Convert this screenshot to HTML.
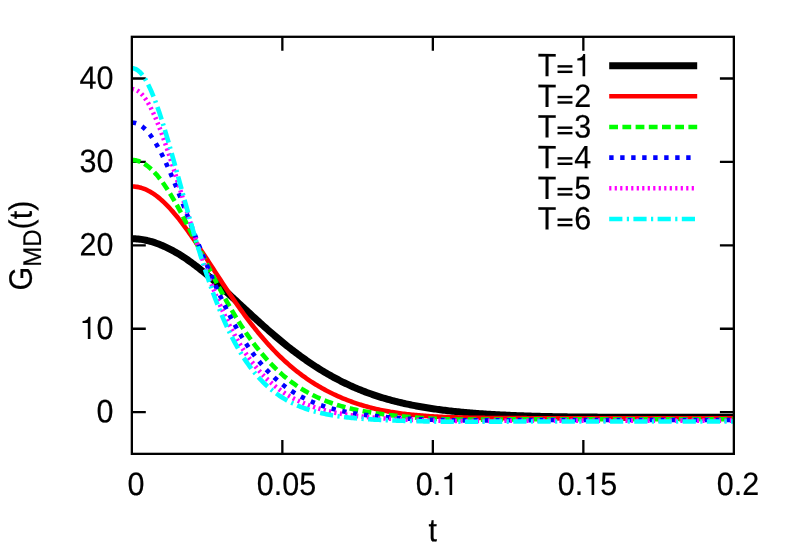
<!DOCTYPE html>
<html><head><meta charset="utf-8"><title>G_MD(t)</title>
<style>
html,body{margin:0;padding:0;background:#fff;}
body{width:789px;height:552px;overflow:hidden;}
svg{display:block;will-change:transform;}
text{font-family:"Liberation Sans",sans-serif;}
</style></head><body>
<svg width="789" height="552" viewBox="0 0 789 552">
<rect x="0" y="0" width="789" height="552" fill="#ffffff"/>
<g stroke="#000" stroke-width="2.30" fill="none" stroke-linecap="butt">
<path d="M131.85 412.15H145.80 M733.85 412.15H719.90"/>
<path d="M131.85 328.74H145.80 M733.85 328.74H719.90"/>
<path d="M131.85 245.33H145.80 M733.85 245.33H719.90"/>
<path d="M131.85 161.92H145.80 M733.85 161.92H719.90"/>
<path d="M131.85 78.50H145.80 M733.85 78.50H719.90"/>
<path d="M282.35 453.85V439.90 M282.35 36.80V50.75"/>
<path d="M432.85 453.85V439.90 M432.85 36.80V50.75"/>
<path d="M583.35 453.85V439.90 M583.35 36.80V50.75"/>
</g>
<text transform="translate(96.44 422.30) rotate(0.05) scale(0.9414 1)" font-size="32.4" stroke="#000" stroke-width="0.2">0</text>
<text transform="translate(79.47 338.88) rotate(0.05) scale(0.9414 1)" font-size="32.4" fill="none">1</text><text transform="translate(96.44 338.88) rotate(0.05) scale(0.9414 1)" font-size="32.4" stroke="#000" stroke-width="0.2">0</text><path d="M90.42 338.88 L87.80 338.88 L87.80 323.02 L82.56 323.02 L82.56 321.04 C85.57 320.92 87.89 319.82 88.56 316.65 L90.42 316.65 Z" fill="#000"/>
<text transform="translate(79.47 255.48) rotate(0.05) scale(0.9414 1)" font-size="32.4" stroke="#000" stroke-width="0.2">20</text>
<text transform="translate(79.47 172.07) rotate(0.05) scale(0.9414 1)" font-size="32.4" stroke="#000" stroke-width="0.2">30</text>
<text transform="translate(79.47 88.66) rotate(0.05) scale(0.9414 1)" font-size="32.4" stroke="#000" stroke-width="0.2">40</text>
<text transform="translate(127.52 495.00) rotate(0.05) scale(0.9414 1)" font-size="32.4" stroke="#000" stroke-width="0.2">0</text>
<text transform="translate(256.82 495.00) rotate(0.05) scale(0.9414 1)" font-size="32.4" stroke="#000" stroke-width="0.2">0.05</text>
<text transform="translate(415.80 495.00) rotate(0.05) scale(0.9414 1)" font-size="32.4" stroke="#000" stroke-width="0.2">0.</text><text transform="translate(441.24 495.00) rotate(0.05) scale(0.9414 1)" font-size="32.4" fill="none">1</text><path d="M452.19 495.00 L449.56 495.00 L449.56 479.14 L444.32 479.14 L444.32 477.16 C447.34 477.04 449.65 475.94 450.33 472.77 L452.19 472.77 Z" fill="#000"/>
<text transform="translate(557.82 495.00) rotate(0.05) scale(0.9414 1)" font-size="32.4" stroke="#000" stroke-width="0.2">0.</text><text transform="translate(583.26 495.00) rotate(0.05) scale(0.9414 1)" font-size="32.4" fill="none">1</text><text transform="translate(600.22 495.00) rotate(0.05) scale(0.9414 1)" font-size="32.4" stroke="#000" stroke-width="0.2">5</text><path d="M594.21 495.00 L591.58 495.00 L591.58 479.14 L586.34 479.14 L586.34 477.16 C589.36 477.04 591.67 475.94 592.34 472.77 L594.21 472.77 Z" fill="#000"/>
<text transform="translate(716.80 495.00) rotate(0.05) scale(0.9414 1)" font-size="32.4" stroke="#000" stroke-width="0.2">0.2</text>
<text transform="translate(428.56 541.30) rotate(0.05) scale(0.9414 1)" font-size="32.4" stroke="#000" stroke-width="0.2">t</text>
<g transform="translate(31.8 245.6) rotate(-90.05)"><text transform="translate(-44.99 0) scale(0.9414 1)" font-size="32.4" stroke="#000" stroke-width="0.2">G</text><text transform="translate(-21.27 9.2) scale(0.9414 1)" font-size="25.596" stroke="#000" stroke-width="0.18">MD</text><text transform="translate(16.20 0) scale(0.9414 1)" font-size="32.4" stroke="#000" stroke-width="0.2">(t)</text></g>
<text transform="translate(537.80 76.30) rotate(0.05) scale(0.9414 1)" font-size="32.4" stroke="#000" stroke-width="0.2">T</text><text transform="translate(556.43 76.30) rotate(0.05) scale(0.9414 1)" font-size="32.4" fill="none">=</text><text transform="translate(574.24 76.30) rotate(0.05) scale(0.9414 1)" font-size="32.4" fill="none">1</text><path d="M557.52 73.04H572.44V70.63H557.52Z" fill="#000"/><path d="M557.52 67.58H572.44V65.17H557.52Z" fill="#000"/><path d="M585.19 76.30 L582.56 76.30 L582.56 60.44 L577.32 60.44 L577.32 58.46 C580.34 58.34 582.66 57.24 583.33 54.07 L585.19 54.07 Z" fill="#000"/>
<text transform="translate(537.80 106.96) rotate(0.05) scale(0.9414 1)" font-size="32.4" stroke="#000" stroke-width="0.2">T</text><text transform="translate(556.43 106.96) rotate(0.05) scale(0.9414 1)" font-size="32.4" fill="none">=</text><text transform="translate(574.24 106.96) rotate(0.05) scale(0.9414 1)" font-size="32.4" stroke="#000" stroke-width="0.2">2</text><path d="M557.52 103.70H572.44V101.29H557.52Z" fill="#000"/><path d="M557.52 98.24H572.44V95.83H557.52Z" fill="#000"/>
<text transform="translate(537.80 137.62) rotate(0.05) scale(0.9414 1)" font-size="32.4" stroke="#000" stroke-width="0.2">T</text><text transform="translate(556.43 137.62) rotate(0.05) scale(0.9414 1)" font-size="32.4" fill="none">=</text><text transform="translate(574.24 137.62) rotate(0.05) scale(0.9414 1)" font-size="32.4" stroke="#000" stroke-width="0.2">3</text><path d="M557.52 134.36H572.44V131.95H557.52Z" fill="#000"/><path d="M557.52 128.90H572.44V126.49H557.52Z" fill="#000"/>
<text transform="translate(537.80 168.28) rotate(0.05) scale(0.9414 1)" font-size="32.4" stroke="#000" stroke-width="0.2">T</text><text transform="translate(556.43 168.28) rotate(0.05) scale(0.9414 1)" font-size="32.4" fill="none">=</text><text transform="translate(574.24 168.28) rotate(0.05) scale(0.9414 1)" font-size="32.4" stroke="#000" stroke-width="0.2">4</text><path d="M557.52 165.02H572.44V162.61H557.52Z" fill="#000"/><path d="M557.52 159.56H572.44V157.15H557.52Z" fill="#000"/>
<text transform="translate(537.80 198.94) rotate(0.05) scale(0.9414 1)" font-size="32.4" stroke="#000" stroke-width="0.2">T</text><text transform="translate(556.43 198.94) rotate(0.05) scale(0.9414 1)" font-size="32.4" fill="none">=</text><text transform="translate(574.24 198.94) rotate(0.05) scale(0.9414 1)" font-size="32.4" stroke="#000" stroke-width="0.2">5</text><path d="M557.52 195.68H572.44V193.27H557.52Z" fill="#000"/><path d="M557.52 190.22H572.44V187.81H557.52Z" fill="#000"/>
<text transform="translate(537.80 229.60) rotate(0.05) scale(0.9414 1)" font-size="32.4" stroke="#000" stroke-width="0.2">T</text><text transform="translate(556.43 229.60) rotate(0.05) scale(0.9414 1)" font-size="32.4" fill="none">=</text><text transform="translate(574.24 229.60) rotate(0.05) scale(0.9414 1)" font-size="32.4" stroke="#000" stroke-width="0.2">6</text><path d="M557.52 226.34H572.44V223.93H557.52Z" fill="#000"/><path d="M557.52 220.88H572.44V218.47H557.52Z" fill="#000"/>
<clipPath id="c"><rect x="131.85" y="36.80" width="602.00" height="417.05"/></clipPath>
<g fill="none" stroke-linecap="butt" stroke-linejoin="round">
<path d="M131.85 238.71 L133.70 238.73 L135.21 238.79 L136.71 238.89 L138.21 239.02 L139.72 239.19 L141.22 239.39 L142.72 239.62 L144.23 239.89 L145.73 240.20 L147.23 240.53 L148.74 240.90 L150.24 241.30 L151.75 241.73 L153.25 242.19 L154.75 242.68 L156.26 243.20 L157.76 243.74 L159.26 244.31 L160.77 244.91 L162.27 245.54 L163.77 246.19 L165.28 246.87 L166.78 247.58 L168.28 248.31 L169.79 249.06 L171.29 249.84 L172.79 250.65 L174.30 251.48 L175.80 252.33 L177.31 253.21 L178.81 254.11 L180.31 255.04 L181.82 255.98 L183.32 256.95 L184.82 257.94 L186.33 258.96 L187.83 259.99 L189.33 261.04 L190.84 262.12 L192.34 263.21 L193.84 264.32 L195.35 265.45 L196.85 266.60 L198.35 267.76 L199.86 268.95 L201.36 270.14 L202.86 271.36 L204.37 272.58 L205.87 273.82 L207.38 275.08 L208.88 276.34 L210.38 277.62 L211.89 278.92 L213.39 280.22 L214.89 281.53 L216.40 282.85 L217.90 284.18 L219.40 285.52 L220.91 286.87 L222.41 288.22 L223.91 289.59 L225.42 290.95 L226.92 292.33 L228.42 293.70 L229.93 295.09 L231.43 296.47 L232.93 297.86 L234.44 299.25 L235.94 300.65 L237.45 302.04 L238.95 303.44 L240.45 304.83 L241.96 306.23 L243.46 307.63 L244.96 309.02 L246.47 310.41 L247.97 311.80 L249.47 313.19 L250.98 314.58 L252.48 315.96 L253.98 317.34 L255.49 318.71 L256.99 320.08 L258.49 321.44 L260.00 322.80 L261.50 324.16 L263.00 325.50 L264.51 326.84 L266.01 328.17 L267.51 329.50 L269.02 330.81 L270.52 332.12 L272.03 333.43 L273.53 334.72 L275.03 336.00 L276.54 337.28 L278.04 338.54 L279.54 339.80 L281.05 341.04 L282.55 342.28 L284.05 343.50 L285.56 344.72 L287.06 345.92 L288.56 347.12 L290.07 348.30 L291.57 349.47 L293.07 350.63 L294.58 351.78 L296.08 352.91 L297.58 354.04 L299.09 355.15 L300.59 356.25 L302.10 357.34 L303.60 358.42 L305.10 359.48 L306.61 360.53 L308.11 361.57 L309.61 362.60 L311.12 363.62 L312.62 364.62 L314.12 365.61 L315.63 366.58 L317.13 367.55 L318.63 368.50 L320.14 369.44 L321.64 370.37 L323.14 371.28 L324.65 372.18 L326.15 373.07 L327.66 373.94 L329.16 374.81 L330.66 375.66 L332.17 376.50 L333.67 377.32 L335.17 378.13 L336.68 378.93 L338.18 379.72 L339.68 380.50 L341.19 381.26 L342.69 382.01 L344.19 382.75 L345.70 383.48 L347.20 384.19 L348.70 384.90 L350.21 385.59 L351.71 386.27 L353.21 386.93 L354.72 387.59 L356.22 388.24 L357.73 388.87 L359.23 389.49 L360.73 390.10 L362.24 390.70 L363.74 391.29 L365.24 391.87 L366.75 392.43 L368.25 392.99 L369.75 393.53 L371.26 394.07 L372.76 394.59 L374.26 395.11 L375.77 395.61 L377.27 396.11 L378.77 396.59 L380.28 397.07 L381.78 397.53 L383.28 397.99 L384.79 398.43 L386.29 398.87 L387.80 399.30 L389.30 399.72 L390.80 400.13 L392.31 400.53 L393.81 400.93 L395.31 401.31 L396.82 401.69 L398.32 402.06 L399.82 402.43 L401.33 402.78 L402.83 403.13 L404.33 403.47 L405.84 403.81 L407.34 404.13 L408.84 404.45 L410.35 404.77 L411.85 405.07 L413.35 405.37 L414.86 405.66 L416.36 405.95 L417.87 406.23 L419.37 406.51 L420.87 406.78 L422.38 407.04 L423.88 407.30 L425.38 407.55 L426.89 407.79 L428.39 408.03 L429.89 408.27 L431.40 408.50 L432.90 408.72 L434.40 408.94 L435.91 409.16 L437.41 409.37 L438.91 409.57 L440.42 409.77 L441.92 409.97 L443.42 410.16 L444.93 410.34 L446.43 410.53 L447.94 410.71 L449.44 410.88 L450.94 411.05 L452.45 411.22 L453.95 411.38 L455.45 411.54 L456.96 411.69 L458.46 411.84 L459.96 411.99 L461.47 412.14 L462.97 412.28 L464.47 412.42 L465.98 412.55 L467.48 412.68 L468.98 412.81 L470.49 412.94 L471.99 413.06 L473.49 413.18 L475.00 413.29 L476.50 413.41 L478.00 413.52 L479.51 413.63 L481.01 413.73 L482.52 413.84 L484.02 413.94 L485.52 414.04 L487.03 414.13 L488.53 414.23 L490.03 414.32 L491.54 414.41 L493.04 414.50 L494.54 414.58 L496.05 414.67 L497.55 414.75 L499.05 414.83 L500.56 414.90 L502.06 414.98 L503.56 415.05 L505.07 415.12 L506.57 415.19 L508.08 415.26 L509.58 415.33 L511.08 415.39 L512.59 415.46 L514.09 415.52 L515.59 415.58 L517.10 415.64 L518.60 415.69 L520.10 415.75 L521.61 415.80 L523.11 415.86 L524.61 415.91 L526.12 415.96 L527.62 416.01 L529.12 416.06 L530.63 416.10 L532.13 416.15 L533.63 416.19 L535.14 416.23 L536.64 416.27 L538.15 416.31 L539.65 416.35 L541.15 416.39 L542.66 416.43 L544.16 416.46 L545.66 416.50 L547.17 416.53 L548.67 416.56 L550.17 416.59 L551.68 416.62 L553.18 416.65 L554.68 416.68 L556.19 416.71 L557.69 416.74 L559.19 416.76 L560.70 416.79 L562.20 416.81 L563.70 416.83 L565.21 416.85 L566.71 416.87 L568.21 416.89 L569.72 416.91 L571.22 416.93 L572.73 416.95 L574.23 416.96 L575.73 416.98 L577.24 416.99 L578.74 417.01 L580.24 417.02 L581.75 417.03 L583.25 417.04 L584.75 417.05 L586.26 417.06 L587.76 417.07 L589.26 417.08 L590.77 417.09 L592.27 417.10 L593.77 417.11 L595.28 417.12 L596.78 417.12 L598.29 417.13 L599.79 417.14 L601.29 417.15 L602.80 417.15 L604.30 417.16 L605.80 417.17 L607.31 417.17 L608.81 417.18 L610.31 417.18 L611.82 417.19 L613.32 417.20 L614.82 417.20 L616.33 417.21 L617.83 417.21 L619.33 417.22 L620.84 417.22 L622.34 417.22 L623.84 417.23 L625.35 417.23 L626.85 417.24 L628.36 417.24 L629.86 417.24 L631.36 417.25 L632.87 417.25 L634.37 417.26 L635.87 417.26 L637.38 417.26 L638.88 417.26 L640.38 417.27 L641.89 417.27 L643.39 417.27 L644.89 417.28 L646.40 417.28 L647.90 417.28 L649.40 417.28 L650.91 417.28 L652.41 417.29 L653.91 417.29 L655.42 417.29 L656.92 417.29 L658.43 417.29 L659.93 417.30 L661.43 417.30 L662.94 417.30 L664.44 417.30 L665.94 417.30 L667.45 417.30 L668.95 417.31 L670.45 417.31 L671.96 417.31 L673.46 417.31 L674.96 417.31 L676.47 417.31 L677.97 417.31 L679.47 417.32 L680.98 417.32 L682.48 417.32 L683.98 417.32 L685.49 417.32 L686.99 417.32 L688.50 417.32 L690.00 417.32 L691.50 417.32 L693.01 417.32 L694.51 417.32 L696.01 417.32 L697.52 417.33 L699.02 417.33 L700.52 417.33 L702.03 417.33 L703.53 417.33 L705.03 417.33 L706.54 417.33 L708.04 417.33 L709.54 417.33 L711.05 417.33 L712.55 417.33 L714.05 417.33 L715.56 417.33 L717.06 417.33 L718.57 417.33 L720.07 417.33 L721.57 417.33 L723.08 417.33 L724.58 417.33 L726.08 417.34 L727.59 417.34 L729.09 417.34 L730.59 417.34 L732.10 417.34 L733.60 417.34" stroke="#000000" stroke-width="7.00"/>
<path d="M609.2 65.65H697.2" stroke="#000000" stroke-width="7.00"/>
<path d="M131.85 186.52 L133.70 186.55 L135.21 186.66 L136.71 186.85 L138.21 187.11 L139.72 187.44 L141.22 187.84 L142.72 188.32 L144.23 188.87 L145.73 189.49 L147.23 190.18 L148.74 190.94 L150.24 191.77 L151.75 192.66 L153.25 193.63 L154.75 194.66 L156.26 195.75 L157.76 196.91 L159.26 198.12 L160.77 199.40 L162.27 200.74 L163.77 202.14 L165.28 203.59 L166.78 205.09 L168.28 206.65 L169.79 208.26 L171.29 209.92 L172.79 211.63 L174.30 213.38 L175.80 215.18 L177.31 217.02 L178.81 218.90 L180.31 220.82 L181.82 222.78 L183.32 224.77 L184.82 226.79 L186.33 228.85 L187.83 230.93 L189.33 233.05 L190.84 235.19 L192.34 237.35 L193.84 239.53 L195.35 241.74 L196.85 243.96 L198.35 246.20 L199.86 248.45 L201.36 250.72 L202.86 253.00 L204.37 255.28 L205.87 257.58 L207.38 259.88 L208.88 262.19 L210.38 264.50 L211.89 266.81 L213.39 269.12 L214.89 271.44 L216.40 273.74 L217.90 276.05 L219.40 278.35 L220.91 280.64 L222.41 282.92 L223.91 285.20 L225.42 287.47 L226.92 289.72 L228.42 291.96 L229.93 294.19 L231.43 296.41 L232.93 298.61 L234.44 300.79 L235.94 302.95 L237.45 305.10 L238.95 307.23 L240.45 309.34 L241.96 311.44 L243.46 313.51 L244.96 315.55 L246.47 317.58 L247.97 319.59 L249.47 321.57 L250.98 323.53 L252.48 325.47 L253.98 327.38 L255.49 329.27 L256.99 331.13 L258.49 332.97 L260.00 334.78 L261.50 336.57 L263.00 338.33 L264.51 340.07 L266.01 341.78 L267.51 343.47 L269.02 345.13 L270.52 346.76 L272.03 348.37 L273.53 349.96 L275.03 351.51 L276.54 353.04 L278.04 354.55 L279.54 356.03 L281.05 357.49 L282.55 358.92 L284.05 360.32 L285.56 361.70 L287.06 363.05 L288.56 364.39 L290.07 365.69 L291.57 366.97 L293.07 368.23 L294.58 369.47 L296.08 370.68 L297.58 371.86 L299.09 373.03 L300.59 374.17 L302.10 375.29 L303.60 376.39 L305.10 377.47 L306.61 378.52 L308.11 379.56 L309.61 380.57 L311.12 381.57 L312.62 382.54 L314.12 383.49 L315.63 384.43 L317.13 385.34 L318.63 386.24 L320.14 387.11 L321.64 387.97 L323.14 388.82 L324.65 389.64 L326.15 390.45 L327.66 391.24 L329.16 392.01 L330.66 392.77 L332.17 393.51 L333.67 394.23 L335.17 394.94 L336.68 395.63 L338.18 396.31 L339.68 396.97 L341.19 397.62 L342.69 398.26 L344.19 398.88 L345.70 399.48 L347.20 400.07 L348.70 400.65 L350.21 401.21 L351.71 401.77 L353.21 402.30 L354.72 402.83 L356.22 403.34 L357.73 403.84 L359.23 404.33 L360.73 404.80 L362.24 405.26 L363.74 405.71 L365.24 406.15 L366.75 406.58 L368.25 406.99 L369.75 407.40 L371.26 407.79 L372.76 408.17 L374.26 408.54 L375.77 408.90 L377.27 409.24 L378.77 409.58 L380.28 409.90 L381.78 410.22 L383.28 410.52 L384.79 410.82 L386.29 411.10 L387.80 411.38 L389.30 411.64 L390.80 411.90 L392.31 412.14 L393.81 412.38 L395.31 412.61 L396.82 412.84 L398.32 413.05 L399.82 413.26 L401.33 413.46 L402.83 413.66 L404.33 413.85 L405.84 414.03 L407.34 414.21 L408.84 414.38 L410.35 414.54 L411.85 414.70 L413.35 414.85 L414.86 415.00 L416.36 415.14 L417.87 415.28 L419.37 415.41 L420.87 415.54 L422.38 415.66 L423.88 415.77 L425.38 415.89 L426.89 416.00 L428.39 416.10 L429.89 416.20 L431.40 416.29 L432.90 416.39 L434.40 416.47 L435.91 416.56 L437.41 416.64 L438.91 416.72 L440.42 416.79 L441.92 416.86 L443.42 416.93 L444.93 416.99 L446.43 417.05 L447.94 417.11 L449.44 417.17 L450.94 417.22 L452.45 417.27 L453.95 417.32 L455.45 417.37 L456.96 417.41 L458.46 417.46 L459.96 417.50 L461.47 417.53 L462.97 417.57 L464.47 417.60 L465.98 417.64 L467.48 417.67 L468.98 417.70 L470.49 417.73 L471.99 417.75 L473.49 417.78 L475.00 417.80 L476.50 417.82 L478.00 417.84 L479.51 417.86 L481.01 417.88 L482.52 417.90 L484.02 417.92 L485.52 417.94 L487.03 417.95 L488.53 417.97 L490.03 417.98 L491.54 417.99 L493.04 418.01 L494.54 418.02 L496.05 418.03 L497.55 418.04 L499.05 418.05 L500.56 418.06 L502.06 418.07 L503.56 418.08 L505.07 418.09 L506.57 418.09 L508.08 418.10 L509.58 418.11 L511.08 418.12 L512.59 418.12 L514.09 418.13 L515.59 418.13 L517.10 418.14 L518.60 418.15 L520.10 418.15 L521.61 418.16 L523.11 418.16 L524.61 418.17 L526.12 418.17 L527.62 418.18 L529.12 418.18 L530.63 418.18 L532.13 418.19 L533.63 418.19 L535.14 418.20 L536.64 418.20 L538.15 418.20 L539.65 418.21 L541.15 418.21 L542.66 418.22 L544.16 418.22 L545.66 418.22 L547.17 418.23 L548.67 418.23 L550.17 418.23 L551.68 418.24 L553.18 418.24 L554.68 418.24 L556.19 418.25 L557.69 418.25 L559.19 418.25 L560.70 418.26 L562.20 418.26 L563.70 418.26 L565.21 418.26 L566.71 418.27 L568.21 418.27 L569.72 418.27 L571.22 418.28 L572.73 418.28 L574.23 418.28 L575.73 418.29 L577.24 418.29 L578.74 418.29 L580.24 418.29 L581.75 418.30 L583.25 418.30 L584.75 418.30 L586.26 418.30 L587.76 418.31 L589.26 418.31 L590.77 418.31 L592.27 418.31 L593.77 418.32 L595.28 418.32 L596.78 418.32 L598.29 418.32 L599.79 418.32 L601.29 418.33 L602.80 418.33 L604.30 418.33 L605.80 418.33 L607.31 418.33 L608.81 418.34 L610.31 418.34 L611.82 418.34 L613.32 418.34 L614.82 418.34 L616.33 418.35 L617.83 418.35 L619.33 418.35 L620.84 418.35 L622.34 418.35 L623.84 418.35 L625.35 418.36 L626.85 418.36 L628.36 418.36 L629.86 418.36 L631.36 418.36 L632.87 418.36 L634.37 418.36 L635.87 418.37 L637.38 418.37 L638.88 418.37 L640.38 418.37 L641.89 418.37 L643.39 418.37 L644.89 418.37 L646.40 418.37 L647.90 418.37 L649.40 418.38 L650.91 418.38 L652.41 418.38 L653.91 418.38 L655.42 418.38 L656.92 418.38 L658.43 418.38 L659.93 418.38 L661.43 418.38 L662.94 418.38 L664.44 418.38 L665.94 418.38 L667.45 418.39 L668.95 418.39 L670.45 418.39 L671.96 418.39 L673.46 418.39 L674.96 418.39 L676.47 418.39 L677.97 418.39 L679.47 418.39 L680.98 418.39 L682.48 418.39 L683.98 418.39 L685.49 418.39 L686.99 418.39 L688.50 418.39 L690.00 418.39 L691.50 418.39 L693.01 418.39 L694.51 418.40 L696.01 418.40 L697.52 418.40 L699.02 418.40 L700.52 418.40 L702.03 418.40 L703.53 418.40 L705.03 418.40 L706.54 418.40 L708.04 418.40 L709.54 418.40 L711.05 418.40 L712.55 418.40 L714.05 418.40 L715.56 418.40 L717.06 418.40 L718.57 418.40 L720.07 418.40 L721.57 418.40 L723.08 418.40 L724.58 418.40 L726.08 418.40 L727.59 418.40 L729.09 418.40 L730.59 418.40 L732.10 418.40 L733.60 418.40" stroke="#ff0000" stroke-width="4.60"/>
<path d="M609.2 96.31H697.2" stroke="#ff0000" stroke-width="4.60"/>
<path d="M131.85 160.08 L133.70 160.14 L135.21 160.31 L136.71 160.60 L138.21 161.00 L139.72 161.52 L141.22 162.15 L142.72 162.89 L144.23 163.74 L145.73 164.71 L147.23 165.77 L148.74 166.95 L150.24 168.23 L151.75 169.61 L153.25 171.09 L154.75 172.67 L156.26 174.34 L157.76 176.10 L159.26 177.95 L160.77 179.89 L162.27 181.91 L163.77 184.02 L165.28 186.19 L166.78 188.45 L168.28 190.77 L169.79 193.16 L171.29 195.61 L172.79 198.12 L174.30 200.69 L175.80 203.31 L177.31 205.98 L178.81 208.70 L180.31 211.46 L181.82 214.26 L183.32 217.10 L184.82 219.97 L186.33 222.86 L187.83 225.79 L189.33 228.73 L190.84 231.70 L192.34 234.68 L193.84 237.68 L195.35 240.68 L196.85 243.69 L198.35 246.71 L199.86 249.73 L201.36 252.75 L202.86 255.76 L204.37 258.77 L205.87 261.77 L207.38 264.76 L208.88 267.73 L210.38 270.70 L211.89 273.64 L213.39 276.57 L214.89 279.47 L216.40 282.35 L217.90 285.21 L219.40 288.05 L220.91 290.85 L222.41 293.63 L223.91 296.38 L225.42 299.09 L226.92 301.78 L228.42 304.43 L229.93 307.05 L231.43 309.64 L232.93 312.18 L234.44 314.70 L235.94 317.17 L237.45 319.61 L238.95 322.01 L240.45 324.37 L241.96 326.70 L243.46 328.98 L244.96 331.23 L246.47 333.43 L247.97 335.60 L249.47 337.73 L250.98 339.81 L252.48 341.86 L253.98 343.87 L255.49 345.84 L256.99 347.77 L258.49 349.66 L260.00 351.51 L261.50 353.33 L263.00 355.10 L264.51 356.84 L266.01 358.54 L267.51 360.20 L269.02 361.83 L270.52 363.42 L272.03 364.97 L273.53 366.49 L275.03 367.97 L276.54 369.41 L278.04 370.83 L279.54 372.20 L281.05 373.55 L282.55 374.86 L284.05 376.14 L285.56 377.39 L287.06 378.61 L288.56 379.79 L290.07 380.95 L291.57 382.08 L293.07 383.18 L294.58 384.24 L296.08 385.29 L297.58 386.30 L299.09 387.29 L300.59 388.25 L302.10 389.18 L303.60 390.09 L305.10 390.98 L306.61 391.84 L308.11 392.67 L309.61 393.49 L311.12 394.28 L312.62 395.05 L314.12 395.79 L315.63 396.52 L317.13 397.23 L318.63 397.91 L320.14 398.58 L321.64 399.22 L323.14 399.85 L324.65 400.46 L326.15 401.06 L327.66 401.63 L329.16 402.19 L330.66 402.73 L332.17 403.26 L333.67 403.77 L335.17 404.26 L336.68 404.74 L338.18 405.21 L339.68 405.66 L341.19 406.10 L342.69 406.52 L344.19 406.94 L345.70 407.34 L347.20 407.73 L348.70 408.10 L350.21 408.47 L351.71 408.82 L353.21 409.16 L354.72 409.50 L356.22 409.82 L357.73 410.13 L359.23 410.44 L360.73 410.73 L362.24 411.02 L363.74 411.30 L365.24 411.57 L366.75 411.83 L368.25 412.08 L369.75 412.33 L371.26 412.57 L372.76 412.80 L374.26 413.03 L375.77 413.25 L377.27 413.46 L378.77 413.67 L380.28 413.88 L381.78 414.08 L383.28 414.27 L384.79 414.46 L386.29 414.64 L387.80 414.82 L389.30 415.00 L390.80 415.17 L392.31 415.34 L393.81 415.51 L395.31 415.67 L396.82 415.82 L398.32 415.98 L399.82 416.13 L401.33 416.28 L402.83 416.43 L404.33 416.57 L405.84 416.71 L407.34 416.85 L408.84 416.98 L410.35 417.12 L411.85 417.24 L413.35 417.37 L414.86 417.50 L416.36 417.62 L417.87 417.73 L419.37 417.85 L420.87 417.96 L422.38 418.07 L423.88 418.18 L425.38 418.28 L426.89 418.38 L428.39 418.47 L429.89 418.57 L431.40 418.65 L432.90 418.74 L434.40 418.82 L435.91 418.89 L437.41 418.97 L438.91 419.04 L440.42 419.10 L441.92 419.16 L443.42 419.21 L444.93 419.27 L446.43 419.31 L447.94 419.35 L449.44 419.39 L450.94 419.43 L452.45 419.46 L453.95 419.49 L455.45 419.52 L456.96 419.55 L458.46 419.57 L459.96 419.59 L461.47 419.61 L462.97 419.62 L464.47 419.63 L465.98 419.64 L467.48 419.65 L468.98 419.66 L470.49 419.66 L471.99 419.67 L473.49 419.67 L475.00 419.67 L476.50 419.66 L478.00 419.66 L479.51 419.66 L481.01 419.65 L482.52 419.64 L484.02 419.63 L485.52 419.62 L487.03 419.61 L488.53 419.60 L490.03 419.59 L491.54 419.58 L493.04 419.57 L494.54 419.55 L496.05 419.54 L497.55 419.53 L499.05 419.51 L500.56 419.50 L502.06 419.49 L503.56 419.47 L505.07 419.46 L506.57 419.45 L508.08 419.43 L509.58 419.42 L511.08 419.41 L512.59 419.39 L514.09 419.38 L515.59 419.37 L517.10 419.36 L518.60 419.35 L520.10 419.34 L521.61 419.33 L523.11 419.32 L524.61 419.31 L526.12 419.30 L527.62 419.29 L529.12 419.28 L530.63 419.27 L532.13 419.27 L533.63 419.26 L535.14 419.25 L536.64 419.25 L538.15 419.24 L539.65 419.24 L541.15 419.23 L542.66 419.23 L544.16 419.22 L545.66 419.22 L547.17 419.22 L548.67 419.22 L550.17 419.21 L551.68 419.21 L553.18 419.21 L554.68 419.21 L556.19 419.21 L557.69 419.20 L559.19 419.20 L560.70 419.20 L562.20 419.20 L563.70 419.20 L565.21 419.20 L566.71 419.20 L568.21 419.20 L569.72 419.20 L571.22 419.20 L572.73 419.20 L574.23 419.20 L575.73 419.20 L577.24 419.20 L578.74 419.20 L580.24 419.20 L581.75 419.20 L583.25 419.20 L584.75 419.21 L586.26 419.21 L587.76 419.21 L589.26 419.21 L590.77 419.21 L592.27 419.21 L593.77 419.21 L595.28 419.21 L596.78 419.21 L598.29 419.21 L599.79 419.21 L601.29 419.21 L602.80 419.21 L604.30 419.22 L605.80 419.22 L607.31 419.22 L608.81 419.22 L610.31 419.22 L611.82 419.22 L613.32 419.22 L614.82 419.22 L616.33 419.22 L617.83 419.22 L619.33 419.22 L620.84 419.22 L622.34 419.22 L623.84 419.22 L625.35 419.22 L626.85 419.22 L628.36 419.23 L629.86 419.23 L631.36 419.23 L632.87 419.23 L634.37 419.23 L635.87 419.23 L637.38 419.23 L638.88 419.23 L640.38 419.23 L641.89 419.23 L643.39 419.23 L644.89 419.23 L646.40 419.23 L647.90 419.23 L649.40 419.23 L650.91 419.23 L652.41 419.23 L653.91 419.23 L655.42 419.23 L656.92 419.23 L658.43 419.23 L659.93 419.23 L661.43 419.23 L662.94 419.23 L664.44 419.23 L665.94 419.23 L667.45 419.23 L668.95 419.23 L670.45 419.23 L671.96 419.23 L673.46 419.23 L674.96 419.23 L676.47 419.23 L677.97 419.23 L679.47 419.24 L680.98 419.24 L682.48 419.24 L683.98 419.24 L685.49 419.24 L686.99 419.24 L688.50 419.24 L690.00 419.24 L691.50 419.24 L693.01 419.24 L694.51 419.24 L696.01 419.24 L697.52 419.24 L699.02 419.24 L700.52 419.24 L702.03 419.24 L703.53 419.24 L705.03 419.24 L706.54 419.24 L708.04 419.24 L709.54 419.24 L711.05 419.24 L712.55 419.24 L714.05 419.24 L715.56 419.24 L717.06 419.24 L718.57 419.24 L720.07 419.24 L721.57 419.24 L723.08 419.24 L724.58 419.24 L726.08 419.24 L727.59 419.24 L729.09 419.24 L730.59 419.24 L732.10 419.24 L733.60 419.24" stroke="#00ff00" stroke-width="4.60" stroke-dasharray="8.80 4.40"/>
<path d="M609.2 126.97H697.2" stroke="#00ff00" stroke-width="4.60" stroke-dasharray="8.80 4.40"/>
<path d="M131.85 122.66 L133.70 122.75 L135.21 123.01 L136.71 123.45 L138.21 124.07 L139.72 124.86 L141.22 125.81 L142.72 126.94 L144.23 128.23 L145.73 129.69 L147.23 131.31 L148.74 133.08 L150.24 135.00 L151.75 137.07 L153.25 139.28 L154.75 141.63 L156.26 144.12 L157.76 146.73 L159.26 149.46 L160.77 152.31 L162.27 155.27 L163.77 158.33 L165.28 161.49 L166.78 164.74 L168.28 168.08 L169.79 171.50 L171.29 174.99 L172.79 178.55 L174.30 182.17 L175.80 185.84 L177.31 189.56 L178.81 193.33 L180.31 197.13 L181.82 200.97 L183.32 204.83 L184.82 208.72 L186.33 212.62 L187.83 216.53 L189.33 220.45 L190.84 224.36 L192.34 228.28 L193.84 232.18 L195.35 236.08 L196.85 239.96 L198.35 243.82 L199.86 247.66 L201.36 251.47 L202.86 255.25 L204.37 259.00 L205.87 262.72 L207.38 266.40 L208.88 270.04 L210.38 273.63 L211.89 277.18 L213.39 280.69 L214.89 284.15 L216.40 287.55 L217.90 290.91 L219.40 294.22 L220.91 297.47 L222.41 300.67 L223.91 303.81 L225.42 306.90 L226.92 309.94 L228.42 312.91 L229.93 315.83 L231.43 318.69 L232.93 321.50 L234.44 324.24 L235.94 326.93 L237.45 329.57 L238.95 332.14 L240.45 334.66 L241.96 337.12 L243.46 339.53 L244.96 341.88 L246.47 344.17 L247.97 346.41 L249.47 348.60 L250.98 350.73 L252.48 352.81 L253.98 354.84 L255.49 356.82 L256.99 358.75 L258.49 360.62 L260.00 362.45 L261.50 364.23 L263.00 365.96 L264.51 367.64 L266.01 369.28 L267.51 370.88 L269.02 372.43 L270.52 373.93 L272.03 375.40 L273.53 376.82 L275.03 378.20 L276.54 379.55 L278.04 380.85 L279.54 382.12 L281.05 383.35 L282.55 384.54 L284.05 385.70 L285.56 386.82 L287.06 387.91 L288.56 388.97 L290.07 390.00 L291.57 390.99 L293.07 391.96 L294.58 392.89 L296.08 393.80 L297.58 394.67 L299.09 395.52 L300.59 396.35 L302.10 397.15 L303.60 397.92 L305.10 398.67 L306.61 399.39 L308.11 400.09 L309.61 400.77 L311.12 401.43 L312.62 402.07 L314.12 402.68 L315.63 403.28 L317.13 403.85 L318.63 404.41 L320.14 404.95 L321.64 405.47 L323.14 405.98 L324.65 406.46 L326.15 406.94 L327.66 407.39 L329.16 407.83 L330.66 408.26 L332.17 408.67 L333.67 409.07 L335.17 409.45 L336.68 409.83 L338.18 410.19 L339.68 410.53 L341.19 410.87 L342.69 411.19 L344.19 411.51 L345.70 411.81 L347.20 412.10 L348.70 412.39 L350.21 412.66 L351.71 412.92 L353.21 413.18 L354.72 413.42 L356.22 413.66 L357.73 413.89 L359.23 414.11 L360.73 414.33 L362.24 414.54 L363.74 414.74 L365.24 414.93 L366.75 415.12 L368.25 415.30 L369.75 415.48 L371.26 415.65 L372.76 415.82 L374.26 415.98 L375.77 416.13 L377.27 416.28 L378.77 416.43 L380.28 416.57 L381.78 416.71 L383.28 416.84 L384.79 416.97 L386.29 417.10 L387.80 417.23 L389.30 417.35 L390.80 417.46 L392.31 417.58 L393.81 417.69 L395.31 417.80 L396.82 417.91 L398.32 418.01 L399.82 418.11 L401.33 418.21 L402.83 418.31 L404.33 418.40 L405.84 418.50 L407.34 418.59 L408.84 418.68 L410.35 418.77 L411.85 418.85 L413.35 418.93 L414.86 419.02 L416.36 419.09 L417.87 419.17 L419.37 419.25 L420.87 419.32 L422.38 419.39 L423.88 419.46 L425.38 419.53 L426.89 419.59 L428.39 419.65 L429.89 419.71 L431.40 419.77 L432.90 419.82 L434.40 419.87 L435.91 419.92 L437.41 419.97 L438.91 420.01 L440.42 420.05 L441.92 420.09 L443.42 420.12 L444.93 420.16 L446.43 420.19 L447.94 420.21 L449.44 420.24 L450.94 420.26 L452.45 420.28 L453.95 420.30 L455.45 420.31 L456.96 420.33 L458.46 420.34 L459.96 420.35 L461.47 420.36 L462.97 420.37 L464.47 420.38 L465.98 420.38 L467.48 420.38 L468.98 420.39 L470.49 420.39 L471.99 420.39 L473.49 420.39 L475.00 420.38 L476.50 420.38 L478.00 420.38 L479.51 420.37 L481.01 420.37 L482.52 420.36 L484.02 420.35 L485.52 420.35 L487.03 420.34 L488.53 420.33 L490.03 420.32 L491.54 420.31 L493.04 420.30 L494.54 420.29 L496.05 420.28 L497.55 420.27 L499.05 420.26 L500.56 420.25 L502.06 420.24 L503.56 420.23 L505.07 420.22 L506.57 420.21 L508.08 420.20 L509.58 420.19 L511.08 420.18 L512.59 420.17 L514.09 420.16 L515.59 420.15 L517.10 420.14 L518.60 420.13 L520.10 420.13 L521.61 420.12 L523.11 420.11 L524.61 420.10 L526.12 420.10 L527.62 420.09 L529.12 420.09 L530.63 420.08 L532.13 420.07 L533.63 420.07 L535.14 420.06 L536.64 420.06 L538.15 420.06 L539.65 420.05 L541.15 420.05 L542.66 420.04 L544.16 420.04 L545.66 420.04 L547.17 420.04 L548.67 420.03 L550.17 420.03 L551.68 420.03 L553.18 420.03 L554.68 420.03 L556.19 420.02 L557.69 420.02 L559.19 420.02 L560.70 420.02 L562.20 420.02 L563.70 420.02 L565.21 420.02 L566.71 420.02 L568.21 420.02 L569.72 420.02 L571.22 420.02 L572.73 420.02 L574.23 420.02 L575.73 420.02 L577.24 420.02 L578.74 420.02 L580.24 420.02 L581.75 420.02 L583.25 420.02 L584.75 420.02 L586.26 420.02 L587.76 420.02 L589.26 420.02 L590.77 420.02 L592.27 420.02 L593.77 420.02 L595.28 420.02 L596.78 420.02 L598.29 420.02 L599.79 420.02 L601.29 420.02 L602.80 420.02 L604.30 420.02 L605.80 420.02 L607.31 420.02 L608.81 420.02 L610.31 420.02 L611.82 420.02 L613.32 420.02 L614.82 420.02 L616.33 420.02 L617.83 420.03 L619.33 420.03 L620.84 420.03 L622.34 420.03 L623.84 420.03 L625.35 420.03 L626.85 420.03 L628.36 420.03 L629.86 420.03 L631.36 420.03 L632.87 420.03 L634.37 420.03 L635.87 420.03 L637.38 420.03 L638.88 420.03 L640.38 420.03 L641.89 420.03 L643.39 420.03 L644.89 420.03 L646.40 420.03 L647.90 420.03 L649.40 420.03 L650.91 420.03 L652.41 420.03 L653.91 420.03 L655.42 420.03 L656.92 420.03 L658.43 420.03 L659.93 420.03 L661.43 420.03 L662.94 420.03 L664.44 420.03 L665.94 420.03 L667.45 420.03 L668.95 420.03 L670.45 420.03 L671.96 420.03 L673.46 420.03 L674.96 420.03 L676.47 420.03 L677.97 420.03 L679.47 420.03 L680.98 420.03 L682.48 420.03 L683.98 420.03 L685.49 420.03 L686.99 420.03 L688.50 420.03 L690.00 420.03 L691.50 420.03 L693.01 420.03 L694.51 420.03 L696.01 420.03 L697.52 420.03 L699.02 420.03 L700.52 420.03 L702.03 420.03 L703.53 420.03 L705.03 420.03 L706.54 420.03 L708.04 420.03 L709.54 420.03 L711.05 420.03 L712.55 420.03 L714.05 420.03 L715.56 420.03 L717.06 420.03 L718.57 420.03 L720.07 420.03 L721.57 420.03 L723.08 420.03 L724.58 420.03 L726.08 420.03 L727.59 420.03 L729.09 420.03 L730.59 420.03 L732.10 420.03 L733.60 420.03" stroke="#0000ff" stroke-width="4.60" stroke-dasharray="4.40 6.60"/>
<path d="M609.2 157.63H697.2" stroke="#0000ff" stroke-width="4.60" stroke-dasharray="4.40 6.60"/>
<path d="M131.85 89.09 L133.70 89.22 L135.21 89.60 L136.71 90.24 L138.21 91.13 L139.72 92.27 L141.22 93.65 L142.72 95.28 L144.23 97.14 L145.73 99.23 L147.23 101.54 L148.74 104.07 L150.24 106.81 L151.75 109.74 L153.25 112.87 L154.75 116.17 L156.26 119.65 L157.76 123.28 L159.26 127.07 L160.77 131.00 L162.27 135.06 L163.77 139.24 L165.28 143.52 L166.78 147.91 L168.28 152.39 L169.79 156.94 L171.29 161.57 L172.79 166.25 L174.30 170.99 L175.80 175.76 L177.31 180.57 L178.81 185.40 L180.31 190.25 L181.82 195.10 L183.32 199.96 L184.82 204.81 L186.33 209.64 L187.83 214.46 L189.33 219.25 L190.84 224.01 L192.34 228.73 L193.84 233.41 L195.35 238.04 L196.85 242.63 L198.35 247.16 L199.86 251.63 L201.36 256.05 L202.86 260.40 L204.37 264.68 L205.87 268.90 L207.38 273.04 L208.88 277.12 L210.38 281.12 L211.89 285.04 L213.39 288.90 L214.89 292.67 L216.40 296.37 L217.90 299.99 L219.40 303.53 L220.91 307.00 L222.41 310.38 L223.91 313.69 L225.42 316.92 L226.92 320.08 L228.42 323.15 L229.93 326.16 L231.43 329.08 L232.93 331.94 L234.44 334.71 L235.94 337.42 L237.45 340.06 L238.95 342.62 L240.45 345.11 L241.96 347.54 L243.46 349.90 L244.96 352.19 L246.47 354.42 L247.97 356.58 L249.47 358.68 L250.98 360.73 L252.48 362.71 L253.98 364.63 L255.49 366.49 L256.99 368.30 L258.49 370.06 L260.00 371.76 L261.50 373.41 L263.00 375.01 L264.51 376.56 L266.01 378.06 L267.51 379.51 L269.02 380.92 L270.52 382.28 L272.03 383.60 L273.53 384.88 L275.03 386.12 L276.54 387.31 L278.04 388.47 L279.54 389.59 L281.05 390.68 L282.55 391.72 L284.05 392.74 L285.56 393.72 L287.06 394.66 L288.56 395.58 L290.07 396.47 L291.57 397.32 L293.07 398.15 L294.58 398.95 L296.08 399.72 L297.58 400.46 L299.09 401.18 L300.59 401.88 L302.10 402.55 L303.60 403.20 L305.10 403.83 L306.61 404.43 L308.11 405.01 L309.61 405.58 L311.12 406.12 L312.62 406.65 L314.12 407.15 L315.63 407.64 L317.13 408.11 L318.63 408.57 L320.14 409.01 L321.64 409.43 L323.14 409.84 L324.65 410.24 L326.15 410.62 L327.66 410.98 L329.16 411.34 L330.66 411.68 L332.17 412.01 L333.67 412.32 L335.17 412.63 L336.68 412.93 L338.18 413.21 L339.68 413.48 L341.19 413.75 L342.69 414.00 L344.19 414.25 L345.70 414.49 L347.20 414.72 L348.70 414.94 L350.21 415.15 L351.71 415.35 L353.21 415.55 L354.72 415.74 L356.22 415.93 L357.73 416.10 L359.23 416.27 L360.73 416.44 L362.24 416.60 L363.74 416.75 L365.24 416.90 L366.75 417.04 L368.25 417.18 L369.75 417.32 L371.26 417.45 L372.76 417.57 L374.26 417.69 L375.77 417.81 L377.27 417.93 L378.77 418.04 L380.28 418.14 L381.78 418.25 L383.28 418.35 L384.79 418.44 L386.29 418.54 L387.80 418.63 L389.30 418.72 L390.80 418.81 L392.31 418.90 L393.81 418.98 L395.31 419.06 L396.82 419.14 L398.32 419.22 L399.82 419.30 L401.33 419.37 L402.83 419.44 L404.33 419.51 L405.84 419.58 L407.34 419.65 L408.84 419.72 L410.35 419.78 L411.85 419.85 L413.35 419.91 L414.86 419.97 L416.36 420.03 L417.87 420.09 L419.37 420.14 L420.87 420.20 L422.38 420.25 L423.88 420.30 L425.38 420.35 L426.89 420.40 L428.39 420.44 L429.89 420.49 L431.40 420.53 L432.90 420.57 L434.40 420.61 L435.91 420.64 L437.41 420.68 L438.91 420.71 L440.42 420.74 L441.92 420.77 L443.42 420.79 L444.93 420.82 L446.43 420.84 L447.94 420.86 L449.44 420.87 L450.94 420.89 L452.45 420.90 L453.95 420.91 L455.45 420.92 L456.96 420.93 L458.46 420.94 L459.96 420.95 L461.47 420.96 L462.97 420.96 L464.47 420.96 L465.98 420.97 L467.48 420.97 L468.98 420.97 L470.49 420.97 L471.99 420.97 L473.49 420.96 L475.00 420.96 L476.50 420.96 L478.00 420.95 L479.51 420.95 L481.01 420.94 L482.52 420.93 L484.02 420.93 L485.52 420.92 L487.03 420.91 L488.53 420.90 L490.03 420.90 L491.54 420.89 L493.04 420.88 L494.54 420.87 L496.05 420.86 L497.55 420.85 L499.05 420.84 L500.56 420.83 L502.06 420.82 L503.56 420.82 L505.07 420.81 L506.57 420.80 L508.08 420.79 L509.58 420.78 L511.08 420.77 L512.59 420.76 L514.09 420.76 L515.59 420.75 L517.10 420.74 L518.60 420.73 L520.10 420.73 L521.61 420.72 L523.11 420.71 L524.61 420.71 L526.12 420.70 L527.62 420.70 L529.12 420.69 L530.63 420.69 L532.13 420.68 L533.63 420.68 L535.14 420.67 L536.64 420.67 L538.15 420.67 L539.65 420.66 L541.15 420.66 L542.66 420.66 L544.16 420.65 L545.66 420.65 L547.17 420.65 L548.67 420.65 L550.17 420.64 L551.68 420.64 L553.18 420.64 L554.68 420.64 L556.19 420.64 L557.69 420.64 L559.19 420.64 L560.70 420.63 L562.20 420.63 L563.70 420.63 L565.21 420.63 L566.71 420.63 L568.21 420.63 L569.72 420.63 L571.22 420.63 L572.73 420.63 L574.23 420.63 L575.73 420.63 L577.24 420.63 L578.74 420.63 L580.24 420.63 L581.75 420.63 L583.25 420.63 L584.75 420.63 L586.26 420.63 L587.76 420.63 L589.26 420.63 L590.77 420.63 L592.27 420.63 L593.77 420.63 L595.28 420.63 L596.78 420.63 L598.29 420.63 L599.79 420.63 L601.29 420.63 L602.80 420.63 L604.30 420.63 L605.80 420.63 L607.31 420.63 L608.81 420.63 L610.31 420.63 L611.82 420.63 L613.32 420.63 L614.82 420.63 L616.33 420.63 L617.83 420.63 L619.33 420.63 L620.84 420.63 L622.34 420.63 L623.84 420.63 L625.35 420.63 L626.85 420.63 L628.36 420.63 L629.86 420.63 L631.36 420.63 L632.87 420.63 L634.37 420.63 L635.87 420.63 L637.38 420.64 L638.88 420.64 L640.38 420.64 L641.89 420.64 L643.39 420.64 L644.89 420.64 L646.40 420.64 L647.90 420.64 L649.40 420.64 L650.91 420.64 L652.41 420.64 L653.91 420.64 L655.42 420.64 L656.92 420.64 L658.43 420.64 L659.93 420.64 L661.43 420.64 L662.94 420.64 L664.44 420.64 L665.94 420.64 L667.45 420.64 L668.95 420.64 L670.45 420.64 L671.96 420.64 L673.46 420.64 L674.96 420.64 L676.47 420.64 L677.97 420.64 L679.47 420.64 L680.98 420.64 L682.48 420.64 L683.98 420.64 L685.49 420.64 L686.99 420.64 L688.50 420.64 L690.00 420.64 L691.50 420.64 L693.01 420.64 L694.51 420.64 L696.01 420.64 L697.52 420.64 L699.02 420.64 L700.52 420.64 L702.03 420.64 L703.53 420.64 L705.03 420.64 L706.54 420.64 L708.04 420.64 L709.54 420.64 L711.05 420.64 L712.55 420.64 L714.05 420.64 L715.56 420.64 L717.06 420.64 L718.57 420.64 L720.07 420.64 L721.57 420.64 L723.08 420.64 L724.58 420.64 L726.08 420.64 L727.59 420.64 L729.09 420.64 L730.59 420.64 L732.10 420.64 L733.60 420.64" stroke="#ff00ff" stroke-width="4.60" stroke-dasharray="2.20 3.30"/>
<path d="M609.2 188.29H697.2" stroke="#ff00ff" stroke-width="4.60" stroke-dasharray="2.20 3.30"/>
<path d="M131.85 68.23 L133.70 68.38 L135.21 68.83 L136.71 69.57 L138.21 70.61 L139.72 71.94 L141.22 73.55 L142.72 75.45 L144.23 77.61 L145.73 80.05 L147.23 82.74 L148.74 85.68 L150.24 88.86 L151.75 92.26 L153.25 95.89 L154.75 99.72 L156.26 103.74 L157.76 107.95 L159.26 112.33 L160.77 116.87 L162.27 121.55 L163.77 126.36 L165.28 131.30 L166.78 136.34 L168.28 141.48 L169.79 146.70 L171.29 151.99 L172.79 157.34 L174.30 162.74 L175.80 168.18 L177.31 173.65 L178.81 179.13 L180.31 184.63 L181.82 190.12 L183.32 195.60 L184.82 201.06 L186.33 206.49 L187.83 211.90 L189.33 217.26 L190.84 222.57 L192.34 227.84 L193.84 233.04 L195.35 238.18 L196.85 243.26 L198.35 248.26 L199.86 253.19 L201.36 258.03 L202.86 262.80 L204.37 267.48 L205.87 272.08 L207.38 276.58 L208.88 281.00 L210.38 285.33 L211.89 289.56 L213.39 293.70 L214.89 297.75 L216.40 301.70 L217.90 305.55 L219.40 309.32 L220.91 312.99 L222.41 316.56 L223.91 320.05 L225.42 323.44 L226.92 326.73 L228.42 329.94 L229.93 333.06 L231.43 336.10 L232.93 339.04 L234.44 341.90 L235.94 344.67 L237.45 347.37 L238.95 349.98 L240.45 352.51 L241.96 354.96 L243.46 357.34 L244.96 359.64 L246.47 361.87 L247.97 364.03 L249.47 366.12 L250.98 368.14 L252.48 370.10 L253.98 371.99 L255.49 373.82 L256.99 375.58 L258.49 377.29 L260.00 378.94 L261.50 380.53 L263.00 382.06 L264.51 383.55 L266.01 384.98 L267.51 386.36 L269.02 387.70 L270.52 388.98 L272.03 390.22 L273.53 391.42 L275.03 392.57 L276.54 393.68 L278.04 394.75 L279.54 395.79 L281.05 396.78 L282.55 397.74 L284.05 398.66 L285.56 399.55 L287.06 400.41 L288.56 401.23 L290.07 402.03 L291.57 402.79 L293.07 403.52 L294.58 404.23 L296.08 404.91 L297.58 405.57 L299.09 406.20 L300.59 406.80 L302.10 407.38 L303.60 407.95 L305.10 408.48 L306.61 409.00 L308.11 409.50 L309.61 409.98 L311.12 410.44 L312.62 410.88 L314.12 411.31 L315.63 411.72 L317.13 412.11 L318.63 412.49 L320.14 412.85 L321.64 413.20 L323.14 413.53 L324.65 413.85 L326.15 414.16 L327.66 414.46 L329.16 414.74 L330.66 415.01 L332.17 415.28 L333.67 415.53 L335.17 415.77 L336.68 416.00 L338.18 416.23 L339.68 416.44 L341.19 416.65 L342.69 416.84 L344.19 417.03 L345.70 417.21 L347.20 417.39 L348.70 417.56 L350.21 417.72 L351.71 417.87 L353.21 418.02 L354.72 418.16 L356.22 418.30 L357.73 418.43 L359.23 418.56 L360.73 418.68 L362.24 418.80 L363.74 418.91 L365.24 419.02 L366.75 419.12 L368.25 419.22 L369.75 419.31 L371.26 419.41 L372.76 419.50 L374.26 419.58 L375.77 419.67 L377.27 419.74 L378.77 419.82 L380.28 419.90 L381.78 419.97 L383.28 420.04 L384.79 420.11 L386.29 420.17 L387.80 420.24 L389.30 420.30 L390.80 420.36 L392.31 420.42 L393.81 420.47 L395.31 420.53 L396.82 420.58 L398.32 420.63 L399.82 420.68 L401.33 420.73 L402.83 420.78 L404.33 420.83 L405.84 420.88 L407.34 420.92 L408.84 420.97 L410.35 421.01 L411.85 421.05 L413.35 421.09 L414.86 421.14 L416.36 421.17 L417.87 421.21 L419.37 421.25 L420.87 421.29 L422.38 421.32 L423.88 421.35 L425.38 421.39 L426.89 421.42 L428.39 421.45 L429.89 421.48 L431.40 421.50 L432.90 421.53 L434.40 421.56 L435.91 421.58 L437.41 421.60 L438.91 421.62 L440.42 421.64 L441.92 421.65 L443.42 421.67 L444.93 421.68 L446.43 421.70 L447.94 421.71 L449.44 421.72 L450.94 421.72 L452.45 421.73 L453.95 421.74 L455.45 421.74 L456.96 421.75 L458.46 421.75 L459.96 421.75 L461.47 421.76 L462.97 421.76 L464.47 421.76 L465.98 421.76 L467.48 421.76 L468.98 421.75 L470.49 421.75 L471.99 421.75 L473.49 421.74 L475.00 421.74 L476.50 421.73 L478.00 421.73 L479.51 421.72 L481.01 421.72 L482.52 421.71 L484.02 421.70 L485.52 421.70 L487.03 421.69 L488.53 421.68 L490.03 421.67 L491.54 421.67 L493.04 421.66 L494.54 421.65 L496.05 421.64 L497.55 421.63 L499.05 421.63 L500.56 421.62 L502.06 421.61 L503.56 421.60 L505.07 421.59 L506.57 421.59 L508.08 421.58 L509.58 421.57 L511.08 421.56 L512.59 421.56 L514.09 421.55 L515.59 421.54 L517.10 421.54 L518.60 421.53 L520.10 421.53 L521.61 421.52 L523.11 421.51 L524.61 421.51 L526.12 421.50 L527.62 421.50 L529.12 421.49 L530.63 421.49 L532.13 421.49 L533.63 421.48 L535.14 421.48 L536.64 421.47 L538.15 421.47 L539.65 421.47 L541.15 421.46 L542.66 421.46 L544.16 421.46 L545.66 421.46 L547.17 421.45 L548.67 421.45 L550.17 421.45 L551.68 421.45 L553.18 421.45 L554.68 421.45 L556.19 421.44 L557.69 421.44 L559.19 421.44 L560.70 421.44 L562.20 421.44 L563.70 421.44 L565.21 421.44 L566.71 421.44 L568.21 421.44 L569.72 421.44 L571.22 421.44 L572.73 421.44 L574.23 421.43 L575.73 421.43 L577.24 421.43 L578.74 421.43 L580.24 421.43 L581.75 421.43 L583.25 421.43 L584.75 421.43 L586.26 421.43 L587.76 421.43 L589.26 421.43 L590.77 421.43 L592.27 421.43 L593.77 421.43 L595.28 421.43 L596.78 421.43 L598.29 421.43 L599.79 421.43 L601.29 421.43 L602.80 421.43 L604.30 421.43 L605.80 421.43 L607.31 421.43 L608.81 421.43 L610.31 421.43 L611.82 421.43 L613.32 421.43 L614.82 421.43 L616.33 421.43 L617.83 421.43 L619.33 421.43 L620.84 421.43 L622.34 421.43 L623.84 421.43 L625.35 421.43 L626.85 421.43 L628.36 421.43 L629.86 421.43 L631.36 421.43 L632.87 421.43 L634.37 421.43 L635.87 421.43 L637.38 421.43 L638.88 421.43 L640.38 421.43 L641.89 421.43 L643.39 421.43 L644.89 421.43 L646.40 421.43 L647.90 421.43 L649.40 421.43 L650.91 421.43 L652.41 421.43 L653.91 421.43 L655.42 421.43 L656.92 421.43 L658.43 421.43 L659.93 421.43 L661.43 421.43 L662.94 421.43 L664.44 421.43 L665.94 421.43 L667.45 421.43 L668.95 421.43 L670.45 421.43 L671.96 421.43 L673.46 421.43 L674.96 421.43 L676.47 421.43 L677.97 421.43 L679.47 421.43 L680.98 421.43 L682.48 421.43 L683.98 421.43 L685.49 421.43 L686.99 421.43 L688.50 421.43 L690.00 421.43 L691.50 421.43 L693.01 421.43 L694.51 421.43 L696.01 421.43 L697.52 421.43 L699.02 421.43 L700.52 421.43 L702.03 421.43 L703.53 421.43 L705.03 421.43 L706.54 421.43 L708.04 421.43 L709.54 421.43 L711.05 421.43 L712.55 421.43 L714.05 421.43 L715.56 421.43 L717.06 421.43 L718.57 421.43 L720.07 421.43 L721.57 421.43 L723.08 421.43 L724.58 421.43 L726.08 421.43 L727.59 421.43 L729.09 421.43 L730.59 421.43 L732.10 421.43 L733.60 421.43" stroke="#00ffff" stroke-width="4.60" stroke-dasharray="13.20 4.40 2.20 4.40"/>
<path d="M609.2 218.95H697.2" stroke="#00ffff" stroke-width="4.60" stroke-dasharray="13.20 4.40 2.20 4.40"/>
</g>
<rect x="131.85" y="36.80" width="602.00" height="417.05" fill="none" stroke="#000" stroke-width="2.30"/>
</svg>
</body></html>
